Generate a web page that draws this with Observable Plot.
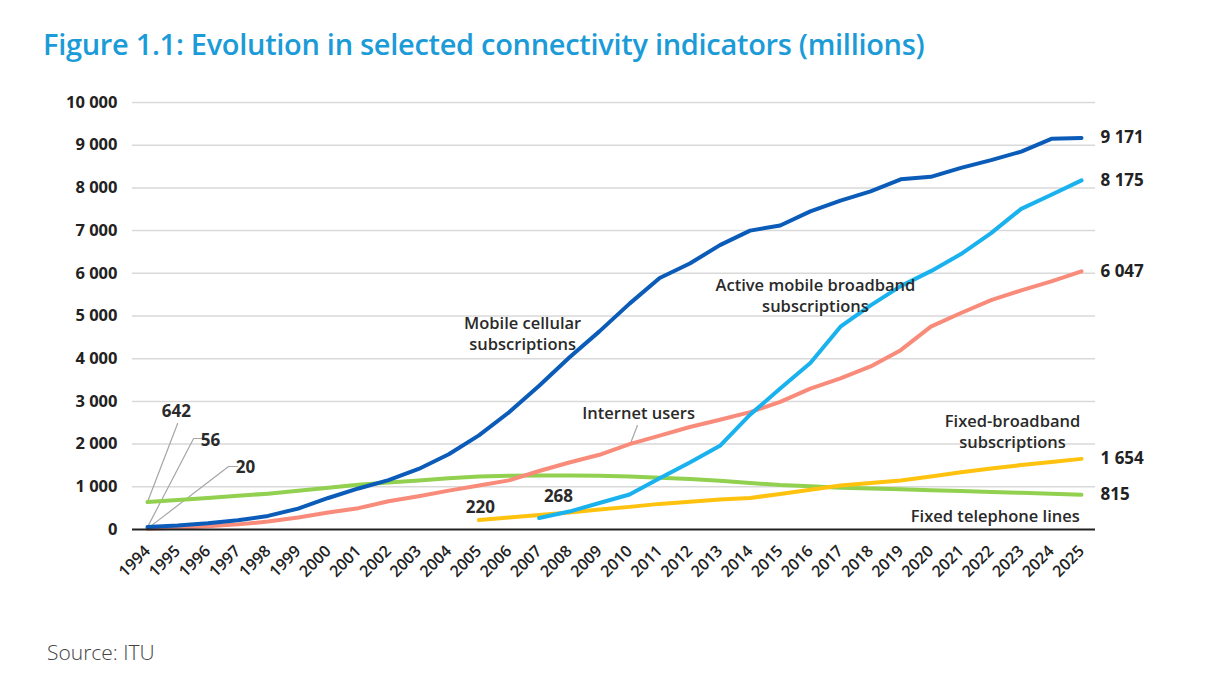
<!DOCTYPE html>
<html><head><meta charset="utf-8">
<script src="https://cdn.jsdelivr.net/npm/d3@7"></script>
<script src="https://cdn.jsdelivr.net/npm/@observablehq/plot@0.6"></script>
<style>
body{margin:0;background:#fff;font-family:"Open Sans",sans-serif;width:1208px;height:678px;overflow:hidden;}
#title{position:absolute;left:43px;top:29px;font-size:29px;line-height:1;color:#1b9bd7;font-weight:600;white-space:nowrap;letter-spacing:-0.3px;}
#chart{position:absolute;left:0;top:80px;}
#source{position:absolute;left:47px;top:642px;font-size:21px;line-height:1;color:#444;font-weight:300;}
</style></head><body>
<div id="title">Figure 1.1: Evolution in selected connectivity indicators (millions)</div>
<div id="chart"></div>
<div id="source">Source: ITU</div>
<script>
const years = [1994,1995,1996,1997,1998,1999,2000,2001,2002,2003,2004,2005,2006,2007,2008,2009,2010,2011,2012,2013,2014,2015,2016,2017,2018,2019,2020,2021,2022,2023,2024,2025];
const yTicks = [0,1000,2000,3000,4000,5000,6000,7000,8000,9000,10000];

// values from 1994 (or from the series start year)
const mobileCellular = [56,91,145,215,318,490,738,961,1157,1417,1763,2205,2745,3368,4030,4640,5290,5890,6230,6660,7000,7120,7450,7700,7920,8200,8260,8470,8650,8850,9150,9171];
const internetUsers = [20,40,75,120,185,280,400,500,660,780,910,1030,1150,1370,1570,1750,2000,2200,2400,2570,2750,2990,3300,3540,3820,4200,4750,5070,5370,5600,5810,6047];
const fixedTelephone = [642,690,740,790,840,905,980,1050,1100,1150,1200,1240,1260,1265,1265,1260,1240,1210,1180,1140,1090,1040,1010,980,960,940,920,900,880,860,840,815];
const fixedBroadband = [220,280,340,400,470,530,600,650,700,740,830,930,1030,1090,1150,1240,1340,1430,1510,1580,1654]; // from 2005
const activeMobileBB = [268,420,620,820,1200,1570,1960,2690,3300,3900,4750,5250,5700,6050,6450,6940,7510,7840,8175]; // from 2007

const seriesDefs = [
  {name:"Fixed telephone lines", start:1994, values:fixedTelephone, color:"#92d050"},
  {name:"Internet users", start:1994, values:internetUsers, color:"#f98b7b"},
  {name:"Fixed-broadband subscriptions", start:2005, values:fixedBroadband, color:"#ffc20e"},
  {name:"Active mobile broadband subscriptions", start:2007, values:activeMobileBB, color:"#19b1ee"},
  {name:"Mobile cellular subscriptions", start:1994, values:mobileCellular, color:"#0a5cb8"}
];
const rows = seriesDefs.flatMap(s => s.values.map((v,i)=>({series:s.name, year:s.start+i, value:v, color:s.color})));
const endRows = seriesDefs.map(s => ({year:s.start+s.values.length-1, value:s.values[s.values.length-1]}));

const annotations = [
  {text:"Mobile cellular\nsubscriptions", year:2006.45, value:4614},
  {text:"Internet users", year:2010.3, value:2740},
  {text:"Active mobile broadband\nsubscriptions", year:2016.17, value:5504},
  {text:"Fixed-broadband\nsubscriptions", year:2022.71, value:2318},
  {text:"Fixed telephone lines", year:2022.14, value:328}
];
const valueNotes = [
  {text:"220", year:2005.05, value:515},
  {text:"268", year:2007.64, value:773},
  {text:"642", year:1994.96, value:2763},
  {text:"56", year:1996.09, value:2084},
  {text:"20", year:1997.25, value:1452}
];
const leaders = [
  {id:"642", pts:[[1994,642],[1995.0,2482]]},
  {id:"56", pts:[[1994,56],[1995.53,2131],[1995.86,2131]]},
  {id:"20", pts:[[1994,20],[1996.69,1475],[1996.99,1475]]},
  {id:"iu", pts:[[2010.03,2014],[2010.26,2436]]}
];
const leaderRows = leaders.flatMap(l => l.pts.map(p=>({id:l.id, year:p[0], value:p[1]})));

const fmt = d => d3.format(",")(d).replace(/,/g, " ");

const chart = Plot.plot({
  width: 1208,
  height: 540,
  marginTop: 22,
  marginBottom: 91,
  marginLeft: 132,
  marginRight: 113,
  x: {type:"linear", domain:[1994,2025], insetLeft:15, insetRight:14},
  y: {domain:[0,10000]},
  style: {fontFamily:"'Open Sans', sans-serif", color:"#222", background:"#fff"},
  marks: [
    Plot.ruleY(yTicks.filter(d=>d>0), {stroke:"#d9d9d9", strokeWidth:1.5}),
    Plot.axisY({ticks:yTicks, tickFormat:fmt, tickSize:0, tickPadding:15, fontSize:16.5, fontWeight:700, label:null}),
    Plot.axisX({ticks:years, tickFormat:d=>String(d), tickSize:0, tickPadding:19, tickRotate:-45, fontSize:16, fontWeight:600, label:null}),
    Plot.line(leaderRows, {x:"year", y:"value", z:"id", stroke:"#a6a6a6", strokeWidth:1.2}),
    Plot.line(rows, {x:"year", y:"value", z:"series", stroke:"color", strokeWidth:4, strokeLinejoin:"round", strokeLinecap:"round"}),
    Plot.ruleY([0], {stroke:"#222", strokeWidth:1.8}),
    Plot.text(endRows, {x:"year", y:"value", text:d=>fmt(d.value), dx:19, textAnchor:"start", fontSize:17, fontWeight:700, fill:"#222"}),
    Plot.text(annotations, {x:"year", y:"value", text:"text", textAnchor:"middle", fontSize:16.5, fontWeight:600, fill:"#2a2a2a", lineHeight:1.3}),
    Plot.text(valueNotes, {x:"year", y:"value", text:"text", textAnchor:"middle", fontSize:17, fontWeight:700, fill:"#2a2a2a"})
  ]
});
document.getElementById("chart").appendChild(chart);
</script>
</body></html>
